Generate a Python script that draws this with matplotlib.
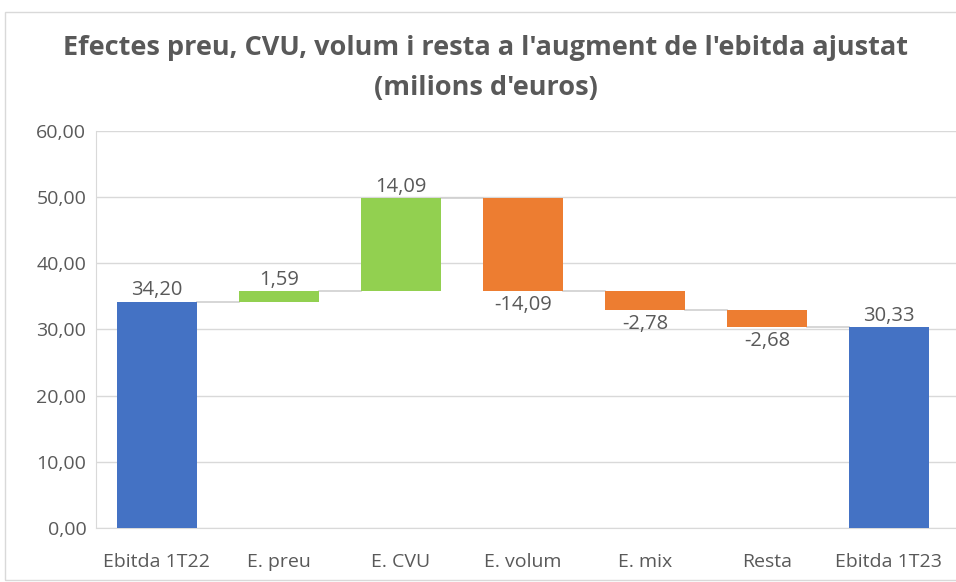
import numpy as np
import matplotlib.pyplot as plt
from matplotlib.patches import Rectangle

# Data
categories = ['Ebitda 1T22', 'E. preu', 'E. CVU', 'E. volum', 'E. mix', 'Resta', 'Ebitda 1T23']
values = [34.20, 1.59, 14.09, -14.09, -2.78, -2.68, 30.33]
is_total = [True, False, False, False, False, False, True]

blue = '#4472C4'
green = '#92D050'
orange = '#ED7D31'
txt = '#595959'

plt.rcParams['font.family'] = ['Open Sans', 'DejaVu Sans']

fig = plt.figure(figsize=(9.56, 5.82), dpi=100)
ax = fig.add_axes([0.1004, 0.0928, 0.8996, 0.6822])

# compute waterfall bottoms
bottoms, heights, colors, ends = [], [], [], []
running = 0.0
for v, tot in zip(values, is_total):
    if tot:
        bottoms.append(0)
        heights.append(v)
        colors.append(blue)
        running = v
    else:
        start = running
        running = running + v
        bottoms.append(min(start, running))
        heights.append(abs(v))
        colors.append(green if v > 0 else orange)
    ends.append(running)

x = np.arange(len(categories))
w = 0.66
ax.bar(x, heights, bottom=bottoms, width=w, color=colors, zorder=3)

# connectors
for i in range(len(x) - 1):
    ax.plot([x[i] + w / 2, x[i + 1] - w / 2], [ends[i], ends[i]],
            color='#D0D0D0', lw=1.2, zorder=2)

# labels
for i, v in enumerate(values):
    lab = f'{v:.2f}'.replace('.', ',')
    if v >= 0:
        ax.text(x[i], bottoms[i] + heights[i] + 0.2, lab, ha='center', va='bottom',
                fontsize=14.5, color=txt)
    else:
        ax.text(x[i], bottoms[i] - 0.6, lab, ha='center', va='top',
                fontsize=14.5, color=txt)

ax.set_ylim(0, 60)
ax.set_xlim(-0.5, 6.55)
ax.set_yticks(np.arange(0, 61, 10))
ax.set_yticklabels([f'{t:.2f}'.replace('.', ',') for t in np.arange(0, 61, 10)])
ax.set_xticks(x)
ax.set_xticklabels(categories)
ax.tick_params(axis='both', length=0, labelsize=14, colors=txt)
ax.tick_params(axis='x', pad=18)
ax.tick_params(axis='y', pad=7)
ax.grid(axis='y', color='#D9D9D9', lw=1, zorder=0)
for s in ['top', 'right']:
    ax.spines[s].set_visible(False)
ax.spines['left'].set_color('#D9D9D9')
ax.spines['bottom'].set_color('#D9D9D9')

fig.text(0.508, 0.884, "Efectes preu, CVU, volum i resta a l'augment de l'ebitda ajustat\n(milions d'euros)",
         ha='center', va='center', fontsize=19.5, fontweight='bold', color=txt, linespacing=1.7)

fig.patches.append(Rectangle((5 / 956, 0.003), 1.1, 1 - 12 / 582 - 0.003, transform=fig.transFigure,
                             fill=False, edgecolor='#D9D9D9', lw=1))

fig.savefig('out.png', dpi=100)
